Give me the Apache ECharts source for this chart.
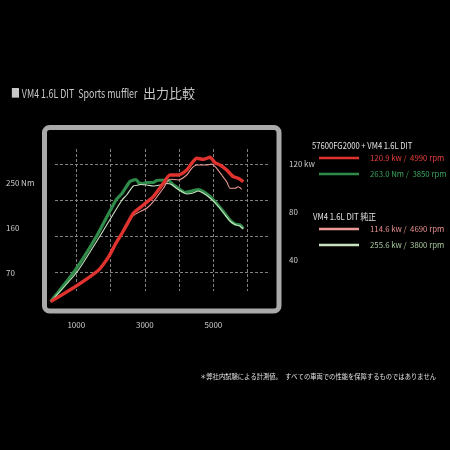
<!DOCTYPE html>
<html>
<head>
<meta charset="utf-8">
<script src="https://cdn.jsdelivr.net/npm/echarts@6/dist/echarts.min.js"></script>
<style>
  html, body { margin: 0; padding: 0; background: #000; }
  #chart { width: 450px; height: 450px; }
</style>
</head>
<body>
<div id="chart"></div>
<script>
// new muffler torque (Nm)
const newTorqueRpm = [254, 933, 1604, 2158, 2333, 2567, 2742, 2829, 2955, 3054, 3246, 3345, 3637, 3733, 3830, 3929, 4025, 4171, 4366, 4559, 4705, 4900, 5096, 5288, 5483, 5629, 5775, 5871];
const newTorqueNm = [13, 72, 145, 216, 229, 253, 257, 250, 249, 251, 251, 255, 256, 253, 246, 242, 237, 231, 234, 237, 233, 223, 209, 193, 176, 168, 166, 159];
// stock torque (Nm)
const stockTorqueRpm = [254, 1021, 1701, 2333, 2470, 2663, 2820, 2858, 3063, 3246, 3442, 3637, 3783, 3929, 4075, 4221, 4404, 4550, 4696, 4900, 5096, 5288, 5483, 5629, 5775, 5871];
const stockTorqueNm = [13, 72, 145, 216, 226, 244, 246, 247, 246, 244, 246, 249, 247, 239, 233, 228, 230, 234, 230, 220, 207, 191, 174, 167, 164, 158];
// new muffler power (kw)
const newPowerRpm = [254, 971, 1654, 1945, 2129, 2333, 2470, 2663, 2955, 3246, 3538, 3733, 3975, 4221, 4366, 4512, 4705, 4900, 5046, 5192, 5387, 5580, 5725, 5871];
const newPowerKw = [5.3, 17.8, 31.7, 42.8, 52.5, 62.3, 69.2, 78.9, 85.8, 92.8, 103.9, 110.8, 110.8, 115, 120.6, 124.8, 123.9, 125.6, 121.1, 119.2, 115, 109.4, 108.1, 105.2];
// stock power (kw)
const stockPowerRpm = [254, 971, 1654, 1945, 2129, 2333, 2470, 2654, 2858, 3054, 3246, 3538, 3733, 3975, 4221, 4366, 4512, 4804, 4950, 5096, 5242, 5387, 5483, 5629, 5725, 5825];
const stockPowerKw = [5.3, 17.8, 31.7, 42.8, 52.5, 62.3, 68, 76.7, 80.3, 83.1, 88.6, 99.8, 107.3, 106.7, 110.8, 116.4, 119.2, 119.2, 120, 116.4, 110.8, 105.2, 99.8, 99.8, 101.1, 98.9];

const rpmLabels = [1000, 3000, 5000];
const nmLabels = [70, 160, 250];
const kwLabels = [40, 80, 120];
const rpmGrid = [1000, 2000, 3000, 4000, 5000, 6000];
const kwGrid = [30, 60, 90, 120];

const legendText = {
  newPower: '120.9 kw /  4990 rpm',
  newTorque: '263.0 Nm /  3850 rpm',
  stockPower: '114.6 kw /  4690 rpm',
  stockTorque: '255.6 kw /  3800 rpm'
};

const FONT = "'Noto Sans CJK JP', 'Noto Sans', sans-serif";

function pairs(xs, ys) {
  return xs.map((x, i) => [x, ys[i]]);
}

// condensed looking text: the original uses a narrow face
function label(text, x, y, size, color, sx) {
  return {
    type: 'text', x: x, y: y, scaleX: sx,
    style: { text: text, fill: color, fontSize: size, fontFamily: FONT, verticalAlign: 'middle' }
  };
}

const myChart = echarts.init(document.getElementById('chart'));

const option = {
  backgroundColor: '#000',
  animation: false,
  textStyle: { fontFamily: FONT },
  title: [
    {
      text: '＊弊社内試験による計測値。　すべての車両での性能を保障するものではありません',
      left: 200, top: 373, padding: 0,
      textStyle: { color: '#e0e0e0', fontSize: 6.3, fontWeight: 'normal', fontFamily: FONT }
    }
  ],
  legend: [
    {
      orient: 'vertical', left: 319, top: 152, padding: 0,
      icon: 'rect', itemWidth: 40, itemHeight: 2.5, itemGap: 4,
      formatter: name => legendText[name],
      textStyle: { fontSize: 7.8, lineHeight: 12, padding: [0, 0, 0, 6], fontFamily: FONT },
      data: [
        { name: 'newPower', textStyle: { color: '#e8403c' } },
        { name: 'newTorque', textStyle: { color: '#3aa45e' } }
      ]
    },
    {
      orient: 'vertical', left: 319, top: 223, padding: 0,
      icon: 'rect', itemWidth: 40, itemHeight: 2.5, itemGap: 4,
      formatter: name => legendText[name],
      textStyle: { fontSize: 7.8, lineHeight: 12, padding: [0, 0, 0, 6], fontFamily: FONT },
      data: [
        { name: 'stockPower', textStyle: { color: '#e89090' } },
        { name: 'stockTorque', textStyle: { color: '#a8c8a0' } }
      ]
    }
  ],
  graphic: [
    {
      type: 'rect', z: -1,
      shape: { x: 44.5, y: 127.5, width: 234.5, height: 183.5, r: 5 },
      style: { fill: 'none', stroke: '#aaaaaa', lineWidth: 5 }
    },
    label('■ VM4 1.6L DIT  Sports muffler', 11, 93.5, 12, '#c8c8c8', 0.74),
    label('出力比較', 143, 93.5, 13, '#c8c8c8', 1),
    label('57600FG2000 + VM4 1.6L DIT', 312, 145.5, 9, '#e0e0e0', 0.85),
    label('VM4 1.6L DIT 純正', 313, 216.5, 9, '#e0e0e0', 0.86)
  ],
  grid: [
    { left: 42, top: 127, width: 240, height: 186 },
    { left: 55, top: 149, width: 213, height: 142 }
  ],
  xAxis: [
    {
      type: 'value', gridIndex: 0, min: 0, max: 7000,
      axisLine: { show: false }, axisTick: { show: false }, splitLine: { show: false },
      axisLabel: { customValues: rpmLabels, color: '#cccccc', fontSize: 8, margin: 8, formatter: v => String(v) }
    },
    {
      type: 'value', gridIndex: 1, min: 379.2, max: 6591.7,
      axisLine: { show: false }, axisLabel: { show: false },
      axisTick: { show: false, customValues: rpmGrid },
      splitLine: { show: true, lineStyle: { color: '#808080', width: 1, type: [3, 2] } }
    }
  ],
  yAxis: [
    {
      type: 'value', gridIndex: 0, position: 'left', min: -10, max: 362,
      axisLine: { show: false }, axisTick: { show: false }, splitLine: { show: false },
      axisLabel: {
        customValues: nmLabels, color: '#cccccc', fontSize: 8, margin: 36, align: 'left',
        formatter: v => v === 250 ? '250 Nm' : String(v)
      }
    },
    {
      type: 'value', gridIndex: 0, position: 'right', min: -25 / 6, max: 155 - 25 / 6,
      axisLine: { show: false }, axisTick: { show: false }, splitLine: { show: false },
      axisLabel: {
        customValues: kwLabels, color: '#cccccc', fontSize: 8, margin: 7, align: 'left',
        formatter: v => v === 120 ? '120 kw' : String(v)
      }
    },
    {
      type: 'value', gridIndex: 1, min: 14.17, max: 132.5,
      axisLine: { show: false }, axisLabel: { show: false },
      axisTick: { show: false, customValues: kwGrid },
      splitLine: { show: true, lineStyle: { color: '#808080', width: 1, type: [3, 2] } }
    }
  ],
  series: [
    {
      name: 'newTorque', type: 'line', xAxisIndex: 0, yAxisIndex: 0,
      symbol: 'none', smooth: 0.2, color: '#2e8b4a',
      lineStyle: { width: 3.2, color: '#2e8b4a' },
      data: pairs(newTorqueRpm, newTorqueNm)
    },
    {
      name: 'stockTorque', type: 'line', xAxisIndex: 0, yAxisIndex: 0,
      symbol: 'none', smooth: 0.2, color: '#c8e2c0',
      lineStyle: { width: 1.1, color: '#c8e2c0' },
      data: pairs(stockTorqueRpm, stockTorqueNm)
    },
    {
      name: 'stockPower', type: 'line', xAxisIndex: 0, yAxisIndex: 1,
      symbol: 'none', smooth: 0.2, color: '#eb9a98',
      lineStyle: { width: 1.1, color: '#eb9a98' },
      data: pairs(stockPowerRpm, stockPowerKw)
    },
    {
      name: 'newPower', type: 'line', xAxisIndex: 0, yAxisIndex: 1,
      symbol: 'none', smooth: 0.2, color: '#e0322e',
      lineStyle: { width: 3.4, color: '#e0322e' },
      data: pairs(newPowerRpm, newPowerKw)
    }
  ]
};

myChart.setOption(option);
</script>
</body>
</html>
